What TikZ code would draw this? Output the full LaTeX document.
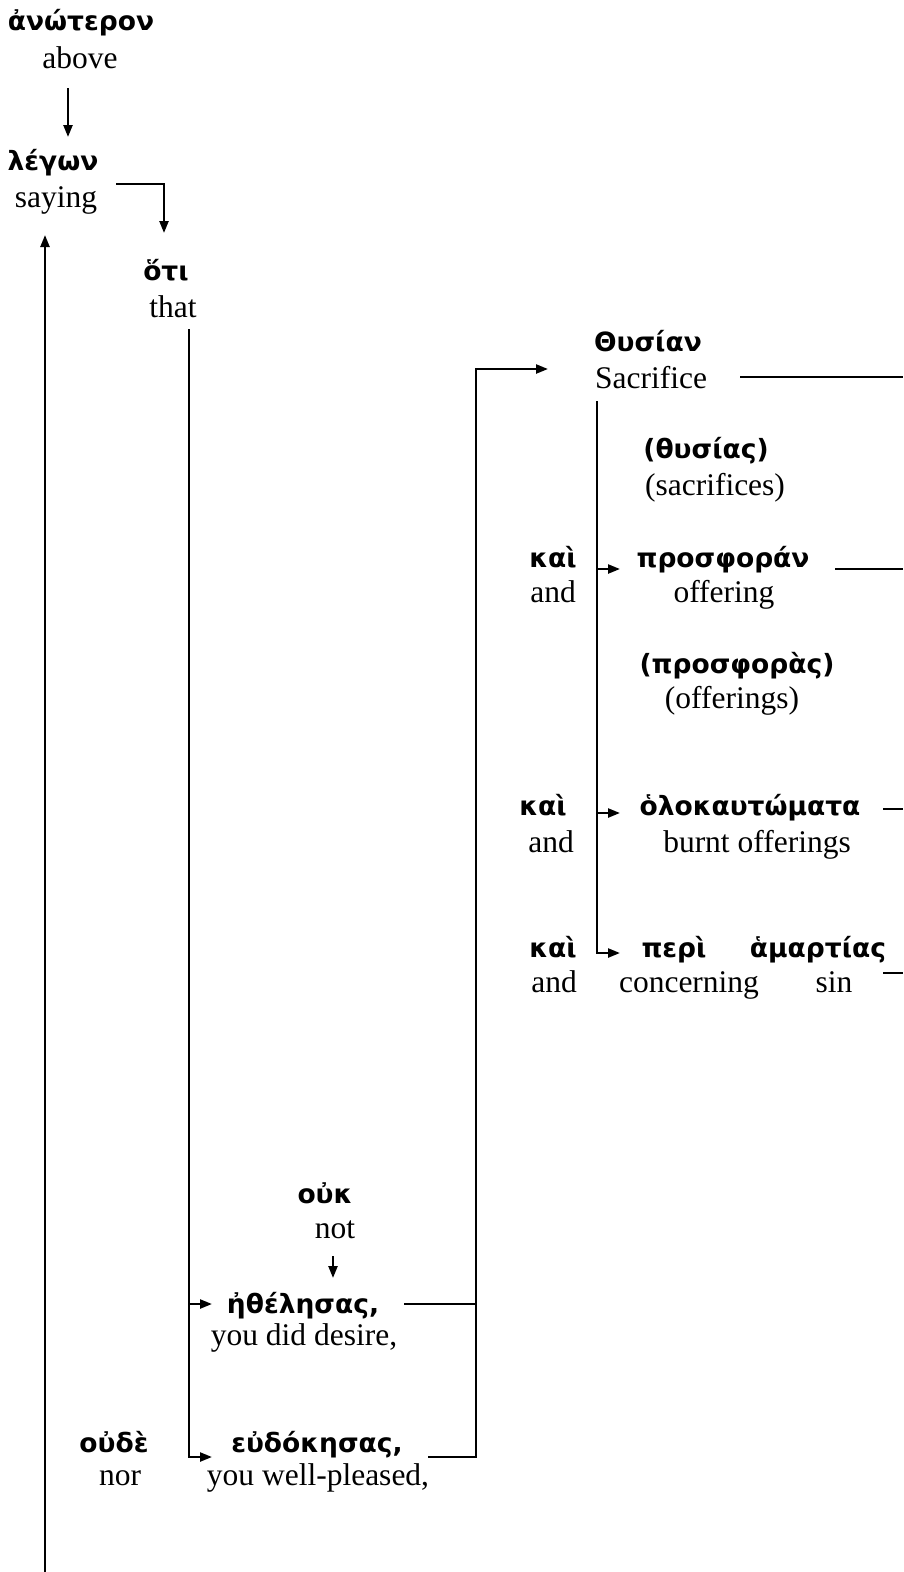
\documentclass[tikz,border=0pt]{standalone}
\usepackage{fontspec}
\setmainfont{Liberation Serif}
\newfontfamily\greekfont[Script=Greek]{DejaVu Sans}
\usetikzlibrary{arrows.meta}

\definecolor{DiagramInk}{HTML}{000000}

\tikzset{
  greek/.style={font=\greekfont\bfseries\fontsize{26.5}{31}\selectfont,text=DiagramInk,inner sep=0pt,anchor=base},
  gloss/.style={font=\fontsize{31.5}{36}\selectfont,text=DiagramInk,inner sep=0pt,anchor=base},
  link/.style={draw=DiagramInk,line width=2.3pt},
  arrow/.style={link,-{Triangle[length=12pt,width=9pt]}}
}

\begin{document}
\begin{tikzpicture}[x=1pt,y=-1pt]
    \useasboundingbox (0,0) rectangle (903,1572);
    % words, Greek over gloss
    \node[greek] (anoteron) at (81,30) {ἀνώτερον};
    \node[gloss] (above) at (80,68) {above};
    \node[greek] (legon) at (53,170) {λέγων};
    \node[gloss] (saying) at (56,207) {saying};
    \node[greek] (hoti) at (166,280) {ὅτι};
    \node[gloss] (that) at (173,317) {that};
    \node[greek] (thusian) at (648,351) {Θυσίαν};
    \node[gloss] (sacrifice) at (651,388) {Sacrifice};
    \node[greek] (thusias) at (706,458) {(θυσίας)};
    \node[gloss] (sacrifices) at (715,495) {(sacrifices)};
    \node[greek] (kaiOne) at (553,567) {καὶ};
    \node[gloss] (andOne) at (553,602) {and};
    \node[greek] (prosphoran) at (723,567) {προσφοράν};
    \node[gloss] (offering) at (724,602) {offering};
    \node[greek] (prosphoras) at (737,673) {(προσφορὰς)};
    \node[gloss] (offerings) at (732,708) {(offerings)};
    \node[greek] (kaiTwo) at (543,815) {καὶ};
    \node[gloss] (andTwo) at (551,852) {and};
    \node[greek] (holokautomata) at (750,815) {ὁλοκαυτώματα};
    \node[gloss] (burnt) at (757,852) {burnt offerings};
    \node[greek] (kaiThree) at (553,957) {καὶ};
    \node[gloss] (andThree) at (554,992) {and};
    \node[greek] (peri) at (674,957) {περὶ};
    \node[greek] (hamartias) at (818,957) {ἁμαρτίας};
    \node[gloss] (concerning) at (689,992) {concerning};
    \node[gloss] (sin) at (834,992) {sin};
    \node[greek] (ouk) at (325,1203) {οὐκ};
    \node[gloss] (not) at (335,1238) {not};
    \node[greek] (ethelesas) at (303,1313) {ἠθέλησας,};
    \node[gloss] (desire) at (304,1345) {you did desire,};
    \node[greek] (oude) at (114,1452) {οὐδὲ};
    \node[gloss] (nor) at (120,1485) {nor};
    \node[greek] (eudokesas) at (317,1452) {εὐδόκησας,};
    \node[gloss] (pleased) at (318,1485) {you well-pleased,};

    % ends of the connectors
    \coordinate (aboveOut) at (68,88);
    \coordinate (legonIn) at (68,137);
    \coordinate (sayingOut) at (116,184);
    \coordinate (hotiIn) at (164,233);
    \coordinate (loopFoot) at (45,1572);
    \coordinate (sayingIn) at (45,235);
    \coordinate (thatOut) at (189,329);
    \coordinate (ethelesasIn) at (212,1304);
    \coordinate (eudokesasIn) at (212,1457);
    \coordinate (notOut) at (333,1256);
    \coordinate (ethelesasTop) at (333,1278);
    \coordinate (ethelesasOut) at (404,1304);
    \coordinate (eudokesasOut) at (428,1457);
    \coordinate (thusianBus) at (476,369);
    \coordinate (thusianIn) at (548,369);
    \coordinate (sacrificeOut) at (740,377);
    \coordinate (sacrificeFoot) at (597,401);
    \coordinate (prosphoranIn) at (620,569);
    \coordinate (holokautomataIn) at (620,813);
    \coordinate (periIn) at (620,953);
    \coordinate (prosphoranOut) at (835,569);
    \coordinate (holokautomataOut) at (883,809);
    \coordinate (sinOut) at (883,973);
    \coordinate (rightEdge) at (903,0);

    % connectors
    \draw[arrow] (aboveOut) -- (legonIn);
    \draw[arrow] (sayingOut) -| (hotiIn);
    \draw[arrow] (loopFoot) -- (sayingIn);
    \draw[arrow] (thatOut) |- (eudokesasIn);
    \draw[arrow] (thatOut |- ethelesasIn) -- (ethelesasIn);
    \draw[arrow] (notOut) -- (ethelesasTop);
    \draw[link] (ethelesasOut) -- (ethelesasOut -| thusianBus);
    \draw[arrow] (eudokesasOut) -| (thusianBus) -- (thusianIn);
    \draw[link] (sacrificeOut) -- (sacrificeOut -| rightEdge);
    \draw[arrow] (sacrificeFoot) |- (periIn);
    \draw[arrow] (sacrificeFoot |- prosphoranIn) -- (prosphoranIn);
    \draw[arrow] (sacrificeFoot |- holokautomataIn) -- (holokautomataIn);
    \draw[link] (prosphoranOut) -- (prosphoranOut -| rightEdge);
    \draw[link] (holokautomataOut) -- (holokautomataOut -| rightEdge);
    \draw[link] (sinOut) -- (sinOut -| rightEdge);
\end{tikzpicture}
\end{document}
